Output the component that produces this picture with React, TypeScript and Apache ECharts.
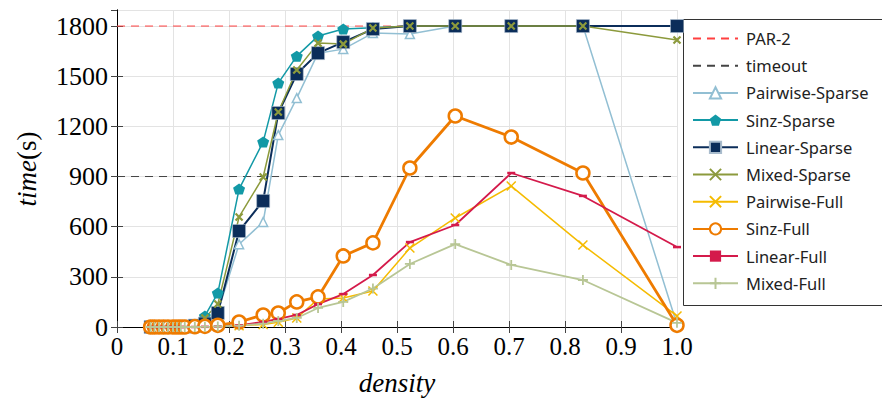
import React, { useEffect, useRef } from "react";
import * as echarts from "echarts";

const densities = [0.06, 0.067, 0.075, 0.083, 0.091, 0.1, 0.107, 0.114, 0.121, 0.139, 0.157, 0.18, 0.218, 0.261, 0.288, 0.321, 0.359, 0.404, 0.457, 0.523, 0.604, 0.704, 0.832, 1.0];

const pairwiseSparse = [0, 0, 0, 0, 0, 0, 0, 0, 1, 5, 30, 90, 495, 628, 1148, 1369, 1638, 1662, 1758, 1752, 1800, 1800, 1800, 15];
const sinzSparse = [0, 0, 0, 0, 0, 0, 0, 0, 2, 15, 66, 203, 825, 1107, 1459, 1620, 1740, 1782, 1790, 1800, 1800, 1800, 1800, 1800];
const linearSparse = [0, 0, 0, 0, 0, 0, 0, 0, 2, 8, 20, 84, 574, 754, 1280, 1513, 1638, 1704, 1782, 1800, 1800, 1800, 1800, 1800];
const mixedSparse = [0, 0, 0, 0, 0, 0, 0, 0, 2, 10, 54, 137, 658, 897, 1286, 1537, 1698, 1692, 1788, 1800, 1800, 1800, 1800, 1716];
const pairwiseFull = [0, 0, 0, 0, 0, 0, 0, 0, 0, 0, 1, 3, 8, 15, 28, 54, 167, 173, 215, 472, 652, 843, 490, 66];
const sinzFull = [0, 0, 0, 0, 0, 0, 0, 0, 0, 2, 4, 10, 30, 72, 84, 150, 180, 425, 503, 951, 1262, 1136, 921, 10];
const linearFull = [0, 0, 0, 0, 0, 0, 0, 0, 0, 0, 1, 3, 10, 30, 48, 72, 137, 197, 311, 508, 610, 921, 784, 478];
const mixedFull = [0, 0, 0, 0, 0, 0, 0, 0, 0, 0, 1, 3, 8, 20, 36, 54, 114, 150, 230, 377, 496, 371, 281, 25];

const par2Value = 1800;
const timeoutValue = 900;
const yTicks = [0, 300, 600, 900, 1200, 1500, 1800];

const SERIF = "'Liberation Serif', 'DejaVu Serif', serif";
const SANS = "'Noto Sans', 'Open Sans', sans-serif";

const X_PATH = "path://M0,0 L10,10 M10,0 L0,10";
const PLUS_PATH = "path://M5,0 L5,10 M0,5 L10,5";
const PENTA_PATH = "path://M0,-10 L9.51,-3.09 L5.88,8.09 L-5.88,8.09 L-9.51,-3.09 Z";

function pts(vals: number[]) {
  return densities.map((d, i) => [d, vals[i]]);
}

export default function App() {
  const ref = useRef<HTMLDivElement>(null);
  useEffect(() => {
    if (!ref.current) return;
    const chart = echarts.init(ref.current, undefined, { renderer: "svg" });
    const line = (
      name: string,
      vals: number[],
      color: string,
      width: number,
      symbol: string,
      size: number | number[],
      itemStyle: any
    ) => ({
      name,
      type: "line",
      data: pts(vals),
      symbol,
      symbolSize: size,
      clip: false,
      lineStyle: { color, width },
      itemStyle,
      emphasis: { disabled: true },
    });
    const hidden = { color: "rgba(0,0,0,0)", borderColor: "rgba(0,0,0,0)", borderWidth: 0 };
    const option: any = {
      animation: false,
      backgroundColor: "#fff",
      grid: { left: 117, right: 205, top: 10, bottom: 75, containLabel: false },
      xAxis: [
        {
          type: "value",
          min: 0,
          max: 1,
          interval: 0.1,
          position: "bottom",
          axisLine: { show: true, lineStyle: { color: "#000", width: 1 } },
          axisTick: { show: true, inside: true, length: 6, lineStyle: { color: "#444" } },
          splitLine: { show: true, lineStyle: { color: "#e3e3e3", width: 1 } },
          axisLabel: {
            color: "#000",
            fontFamily: SERIF,
            fontSize: 25,
            margin: 7,
            formatter: (v: number) => (v === 0 ? "0" : v.toFixed(1)),
          },
          name: "density",
          nameLocation: "middle",
          nameGap: 42,
          nameTextStyle: { fontFamily: SERIF, fontStyle: "italic", fontSize: 27, color: "#000" },
        },
        {
          type: "value",
          min: 0,
          max: 1,
          interval: 0.1,
          position: "top",
          axisLine: { show: true, lineStyle: { color: "#000", width: 1 } },
          axisTick: { show: true, inside: true, length: 6, lineStyle: { color: "#444" } },
          splitLine: { show: false },
          axisLabel: { show: false },
        },
      ],
      yAxis: [
        {
          type: "value",
          min: 0,
          max: 1896,
          interval: 300,
          position: "left",
          axisLine: { show: true, lineStyle: { color: "#000", width: 1 } },
          axisTick: { show: true, inside: true, length: 6, lineStyle: { color: "#444" } },
          splitLine: { show: true, lineStyle: { color: "#e3e3e3", width: 1 } },
          axisLabel: {
            color: "#000",
            fontFamily: SERIF,
            fontSize: 26,
            margin: 9,
            showMaxLabel: false,
            formatter: (v: number) => (yTicks.includes(v) ? String(v) : ""),
          },
        },
        {
          type: "value",
          min: 0,
          max: 1896,
          interval: 300,
          position: "right",
          axisLine: { show: true, lineStyle: { color: "#000", width: 1 } },
          axisTick: { show: true, inside: true, length: 6, lineStyle: { color: "#444" } },
          splitLine: { show: false },
          axisLabel: { show: false },
        },
      ],
      legend: {
        orient: "vertical",
        left: 692,
        top: 30,
        padding: 0,
        itemWidth: 45,
        itemHeight: 14,
        itemGap: 10.2,
        textStyle: { fontFamily: SANS, fontSize: 16.5, color: "#222", lineHeight: 16, padding: [0, 0, 0, 3] },
        data: [
          { name: "PAR-2", itemStyle: hidden },
          { name: "timeout", itemStyle: hidden },
          "Pairwise-Sparse",
          "Sinz-Sparse",
          "Linear-Sparse",
          "Mixed-Sparse",
          "Pairwise-Full",
          "Sinz-Full",
          "Linear-Full",
          "Mixed-Full",
        ],
      },
      graphic: [
        {
          type: "rect",
          z: -10,
          shape: { x: 683.5, y: 19.5, width: 230, height: 286 },
          style: { fill: "#fff", stroke: "#333", lineWidth: 1 },
        },
        {
          type: "text",
          x: 27,
          y: 169,
          rotation: Math.PI / 2,
          style: {
            text: "{i|time}{n|(s)}",
            align: "center",
            verticalAlign: "middle",
            rich: {
              i: { fontFamily: SERIF, fontStyle: "italic", fontSize: 27, fill: "#000" },
              n: { fontFamily: SERIF, fontSize: 27, fill: "#000" },
            },
          },
        },
      ],
      series: [
        {
          name: "PAR-2",
          type: "line",
          data: [[0, par2Value], [1, par2Value]],
          symbol: "none",
          lineStyle: { color: "#ff4040", width: 1, type: [8, 6] },
          itemStyle: { color: "#ff4040" },
          emphasis: { disabled: true },
        },
        {
          name: "timeout",
          type: "line",
          data: [[0, timeoutValue], [1, timeoutValue]],
          symbol: "none",
          lineStyle: { color: "#444", width: 1, type: [8, 6] },
          itemStyle: { color: "#444" },
          emphasis: { disabled: true },
        },
        line("Pairwise-Sparse", pairwiseSparse, "#92bfd3", 1.5, "triangle", 9, {
          color: "#fff",
          borderColor: "#92bfd3",
          borderWidth: 1.5,
        }),
        line("Sinz-Sparse", sinzSparse, "#1299a6", 1.5, PENTA_PATH, [12, 11], {
          color: "#1299a6",
          borderColor: "#1299a6",
          borderWidth: 0,
        }),
        line("Linear-Sparse", linearSparse, "#0b2d5a", 2, "rect", 13, {
          color: "#0b2d5a",
          borderColor: "#a9bccd",
          borderWidth: 0.6,
        }),
        line("Mixed-Sparse", mixedSparse, "#8c9a3c", 1.5, X_PATH, 7, {
          color: "#8c9a3c",
          borderColor: "#8c9a3c",
          borderWidth: 2.2,
        }),
        line("Pairwise-Full", pairwiseFull, "#f5bb00", 1.5, X_PATH, 9, {
          color: "#f5bb00",
          borderColor: "#f5bb00",
          borderWidth: 1.5,
        }),
        line("Sinz-Full", sinzFull, "#ee7b00", 2.8, "circle", 13, {
          color: "#fff",
          borderColor: "#ee7b00",
          borderWidth: 2.5,
        }),
        line("Linear-Full", linearFull, "#d41a4b", 1.8, "rect", [8, 2.5], {
          color: "#d41a4b",
          borderColor: "#d41a4b",
          borderWidth: 0,
        }),
        line("Mixed-Full", mixedFull, "#b8c695", 1.8, PLUS_PATH, 10, {
          color: "#b8c695",
          borderColor: "#b8c695",
          borderWidth: 1.8,
        }),
      ],
    };
    chart.setOption(option);
    return () => chart.dispose();
  }, []);
  return <div ref={ref} style={{ width: 882, height: 402, position: "absolute", left: 0, top: 0 }} />;
}
